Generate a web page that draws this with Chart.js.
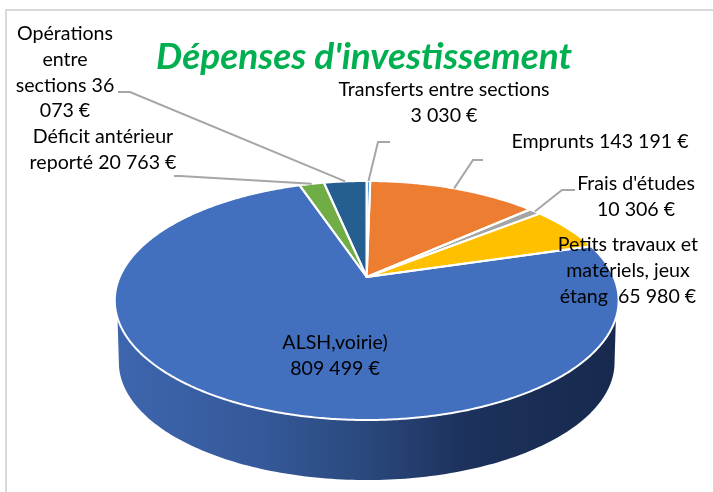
<!DOCTYPE html>
<html lang="fr">
<head>
<meta charset="utf-8">
<title>Dépenses d'investissement</title>
<script src="https://cdn.jsdelivr.net/npm/chart.js@4"></script>
<style>
html,body{margin:0;padding:0;background:#fff}
canvas{display:block}
</style>
</head>
<body>
<canvas id="c" width="713" height="492"></canvas>
<script>
const chartTitle = "Dépenses d'investissement";
const categories = ["Transferts entre sections","Emprunts","Frais d'études","Petits travaux et matériels, jeux étang","ALSH,voirie)","Déficit antérieur reporté","Opérations entre sections"];
const values = [3030,143191,10306,65980,809499,20763,36073];
const sliceColors = ["#5b9bd5","#ed7d31","#a5a5a5","#ffc000","#4270bf","#70ad47","#255e91"];
const labelLines = [
  ["Transferts entre sections","3 030 €"],
  ["Emprunts 143 191 €"],
  ["Frais d'études","10 306 €"],
  ["Petits travaux et","matériels, jeux","étang  65 980 €"],
  ["ALSH,voirie)","809 499 €"],
  ["Déficit antérieur","reporté 20 763 €"],
  ["Opérations","entre","sections 36","073 €"]
];
const labelCenters = [[444,90],[600,142],[636,184],[628,245],[335,343],[103,137],[65,34]];
const leaderElbows = [
  [[390,142],[378,142]],
  [[483,160],[473,160]],
  [[575,190],[562,190]],
  null,
  null,
  [[174,176],[180,176]],
  [[118,92],[130,92]]
];

const TOP = {x:366.7, y:277, a:247, b:114.9, k:0.1966};
const BOTTOM = {x:366.7, y:339.4, a:243, b:113, k:0.1966};
const FONT = "Lato, 'Open Sans', sans-serif";
const LABEL_SIZE = 19.6, LINE_H = 25.7;

function project(g, phi){
  const cx = Math.cos(phi), cy = Math.sin(phi), w = 1 - g.k*cy;
  return [g.x + g.a*cx/w, g.y + g.b*cy/w];
}
const rad = d => d*Math.PI/180;

function traceSlice(ctx, arc){
  const {startAngle,endAngle} = arc.getProps(['startAngle','endAngle'],true);
  ctx.beginPath();
  ctx.moveTo(TOP.x,TOP.y);
  const n = Math.max(2,Math.ceil((endAngle-startAngle)/rad(0.5)));
  for(let i=0;i<=n;i++){
    const p = project(TOP,startAngle+(endAngle-startAngle)*i/n);
    ctx.lineTo(p[0],p[1]);
  }
  ctx.closePath();
}

const perspectivePie = {
  id:'perspectivePie',
  beforeDraw(chart){
    const ctx = chart.ctx;
    ctx.save();
    ctx.fillStyle = '#d9d9d9';
    ctx.fillRect(5,9,708,2);
    ctx.fillRect(5,9,2,483);
    ctx.restore();
  },
  beforeDatasetsDraw(chart){
    const ctx = chart.ctx, arcs = chart.getDatasetMeta(0).data;
    ctx.save();
    const grad = ctx.createLinearGradient(116,0,618,0);
    grad.addColorStop(0,'#3e66ae');
    grad.addColorStop(0.3,'#345898');
    grad.addColorStop(0.5,'#2a487c');
    grad.addColorStop(0.7,'#1c315c');
    grad.addColorStop(1,'#17294d');
    ctx.beginPath();
    for(let d=19.5;d<=160.5;d+=1){const p=project(TOP,rad(d));ctx.lineTo(p[0],p[1]);}
    for(let d=168.7;d>=11.3;d-=1){const p=project(BOTTOM,rad(d));ctx.lineTo(p[0],p[1]);}
    ctx.closePath();
    ctx.fillStyle = grad;
    ctx.fill();
    arcs.forEach(arc=>{
      traceSlice(ctx,arc);
      ctx.fillStyle = arc.options.backgroundColor;
      ctx.fill();
    });
    arcs.forEach(arc=>{
      traceSlice(ctx,arc);
      ctx.strokeStyle = '#fff';
      ctx.lineWidth = 2;
      ctx.lineJoin = 'round';
      ctx.stroke();
    });
    ctx.restore();
    return false;
  },
  afterDraw(chart){
    const ctx = chart.ctx, arcs = chart.getDatasetMeta(0).data;
    ctx.save();
    ctx.strokeStyle = '#a6a6a6';
    ctx.lineWidth = 2;
    arcs.forEach((arc,i)=>{
      const el = leaderElbows[i];
      if(!el) return;
      const {startAngle,endAngle} = arc.getProps(['startAngle','endAngle'],true);
      const p = project(TOP,(startAngle+endAngle)/2);
      ctx.beginPath();
      ctx.moveTo(el[0][0],el[0][1]);
      ctx.lineTo(el[1][0],el[1][1]);
      ctx.lineTo(p[0],p[1]);
      ctx.stroke();
    });
    ctx.fillStyle = '#000';
    ctx.font = LABEL_SIZE+'px '+FONT;
    ctx.textAlign = 'center';
    ctx.textBaseline = 'middle';
    labelLines.forEach((lines,i)=>{
      lines.forEach((t,j)=>{
        ctx.fillText(t,labelCenters[i][0],labelCenters[i][1]+j*LINE_H);
      });
    });
    ctx.restore();
  }
};

new Chart(document.getElementById('c').getContext('2d'),{
  type:'pie',
  data:{labels:categories,datasets:[{data:values,backgroundColor:sliceColors,borderColor:'#fff',borderWidth:2}]},
  options:{
    responsive:false,
    animation:false,
    layout:{padding:{left:15,top:19}},
    plugins:{
      legend:{display:false},
      tooltip:{enabled:false},
      title:{display:true,text:chartTitle,color:'#00b050',fullSize:false,
        font:{family:FONT,size:37,weight:'bold',style:'italic'},padding:{top:16,bottom:4}}
    }
  },
  plugins:[perspectivePie]
});
</script>
</body>
</html>
